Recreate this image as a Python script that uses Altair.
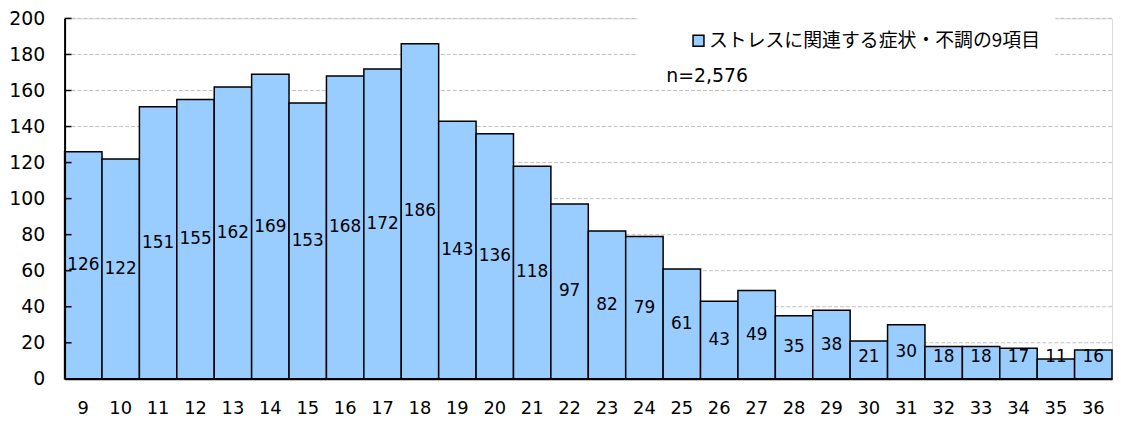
import altair as alt
import pandas as pd

scores = ["9", "10", "11", "12", "13", "14", "15", "16", "17", "18",
          "19", "20", "21", "22", "23", "24", "25", "26", "27", "28",
          "29", "30", "31", "32", "33", "34", "35", "36"]
counts = [126, 122, 151, 155, 162, 169, 153, 168, 172, 186,
          143, 136, 118, 97, 82, 79, 61, 43, 49, 35,
          38, 21, 30, 18, 18, 17, 11, 16]
series_name = "ストレスに関連する症状・不調の9項目"
grid_values = [20, 40, 60, 80, 100, 120, 140, 160, 180, 200]
axis_values = [0, 20, 40, 60, 80, 100, 120, 140, 160, 180, 200]
n_label = "n=2,576"

FONT = "Noto Sans CJK JP"
NUM_FONT = "DejaVu Sans"

df = pd.DataFrame({"score": scores, "count": counts, "series": [series_name] * len(scores)})
grid_df = pd.DataFrame({"v": grid_values})
n_df = pd.DataFrame({"t": [n_label]})

y_scale = alt.Scale(domain=[0, 200], nice=False)

x_enc = alt.X(
    "score:N", sort=scores,
    scale=alt.Scale(paddingInner=0, paddingOuter=0),
    axis=alt.Axis(title=None, labelAngle=0, labelFontSize=18, labelFont=NUM_FONT,
                  labelColor="black", labelPadding=21, ticks=False, tickSize=0,
                  labelOverlap=False,
                  domainColor="black", domainWidth=2, zindex=1),
)

y_axis = alt.Axis(title=None, values=axis_values, grid=False, ticks=False, tickSize=0,
                  labelPadding=20, labelFontSize=19, labelFont=NUM_FONT, labelColor="black",
                  labelOverlap=False,
                  domainColor="black", domainWidth=2, minExtent=57, maxExtent=57, zindex=1)

grid = alt.Chart(grid_df).mark_rule(color="#C0C0C0", strokeDash=[4, 2], strokeWidth=1).encode(
    y=alt.Y("v:Q", scale=y_scale, axis=y_axis)
)

bars = alt.Chart(df).mark_bar(stroke="black", strokeWidth=1.5).encode(
    x=x_enc,
    y=alt.Y("count:Q", scale=y_scale, axis=y_axis),
    fill=alt.Fill(
        "series:N",
        scale=alt.Scale(range=["#99CCFF"]),
        legend=alt.Legend(
            title=None, orient="none", legendX=577, legendY=-2,
            fillColor="white", padding=15, symbolType="square", symbolSize=121,
            symbolStrokeColor="black", symbolStrokeWidth=1.5, symbolOffset=37,
            labelFontSize=19, labelFont=FONT, labelColor="black", labelOffset=1,
            labelLimit=600,
        ),
    ),
)

labels = alt.Chart(df).transform_calculate(
    ly="max(datum.count / 2, 12)"
).mark_text(fontSize=17, font=NUM_FONT, color="black", baseline="middle").encode(
    x=x_enc,
    y=alt.Y("ly:Q", scale=y_scale, axis=y_axis),
    text="count:Q",
)

ticks = alt.Chart(grid_df).mark_rule(color="black", strokeWidth=1.5).encode(
    y=alt.Y("v:Q", scale=y_scale, axis=y_axis),
    x=alt.value(0),
    x2=alt.value(7),
)

n_text = alt.Chart(n_df).mark_text(align="left", baseline="middle", fontSize=19,
                                   font=NUM_FONT, color="black").encode(
    x=alt.value(606), y=alt.value(58), text="t:N"
)

chart = alt.layer(grid, bars, labels, ticks, n_text).properties(
    width=1055, height=363,
    autosize=alt.AutoSizeParams(type="none"),
    padding={"left": 57, "top": 9, "right": 1, "bottom": 43},
).configure_view(stroke=None).configure(background="white").configure_axis(
    labelOverlap=False
)

chart.save("out.html", embed_options={"renderer": "svg", "actions": False})
